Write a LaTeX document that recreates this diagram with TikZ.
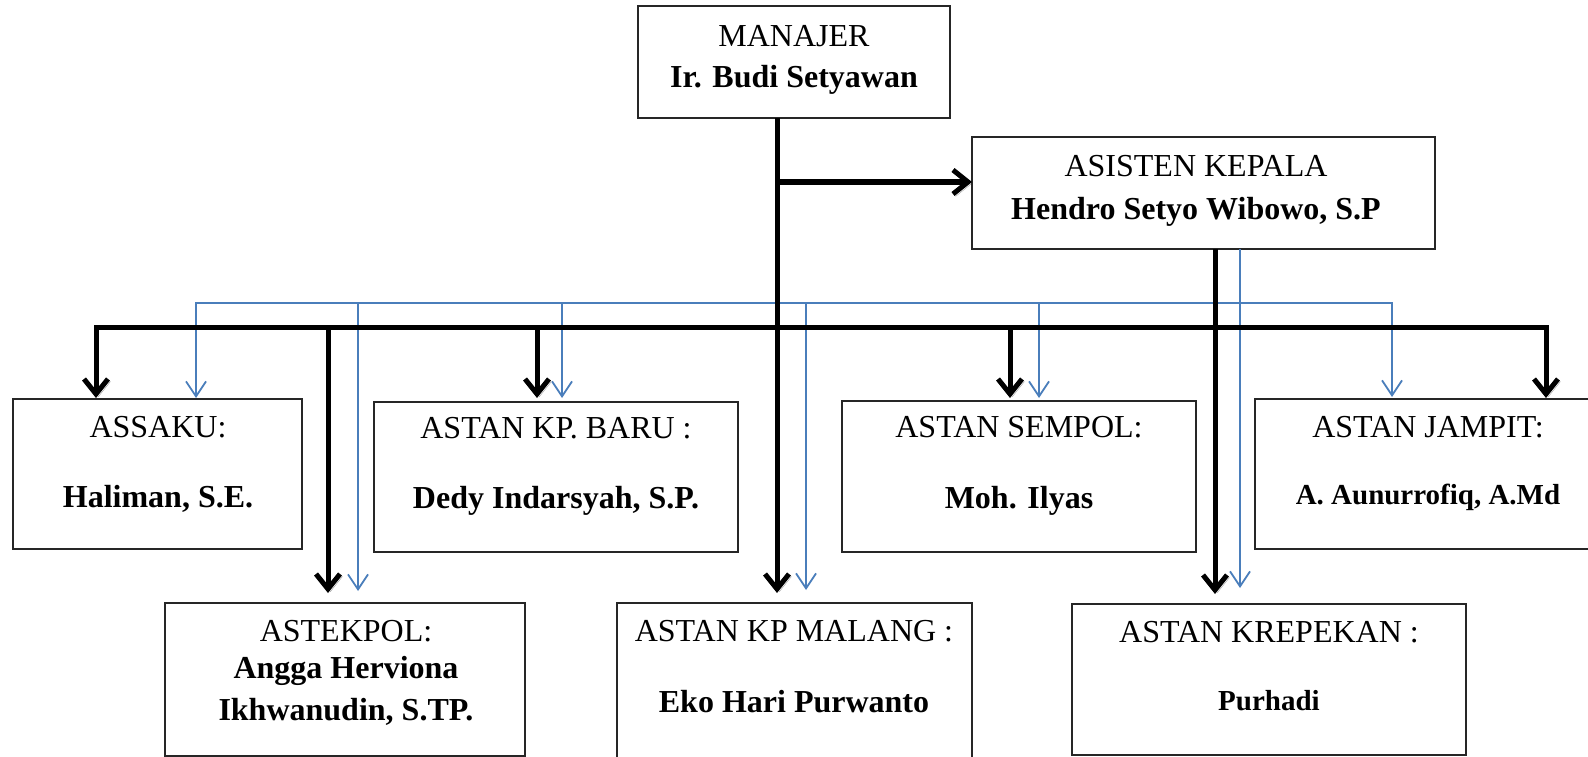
\documentclass[tikz,border=0pt]{standalone}
\usepackage{fontspec}
\setmainfont{Liberation Serif}
\usetikzlibrary{arrows.meta}
\definecolor{lnblue}{RGB}{74,126,187}
\tikzset{
  box/.style={draw=black!85, line width=1.2pt, inner sep=0pt, outer sep=0pt, fill=white},
  lbl/.style={anchor=base, inner sep=0pt, font=\fontsize{32}{38}\selectfont},
  nm/.style={anchor=base, inner sep=0pt, font=\fontsize{32}{38}\selectfont\bfseries},
  nms/.style={anchor=base, inner sep=0pt, font=\fontsize{29}{35}\selectfont\bfseries},
  blk/.style={line width=5pt, draw=black,
    preaction={draw=black!35, transform canvas={shift={(2.5,2.5)}}}},
  blkarr/.style={blk, -{Straight Barb[length=15pt,width=24pt]}},
  blu/.style={line width=1.8pt, draw=lnblue},
  bluarr/.style={blu, -{Straight Barb[length=15pt,width=20pt]}},
}
\begin{document}
\begin{tikzpicture}[x=1pt,y=-1pt]
\useasboundingbox (0,0) rectangle (1588,757);
\clip (0,0) rectangle (1588,757);
\fill[white] (0,0) rectangle (1588,757);
% column coordinates
\coordinate (cA) at (96,0);   \coordinate (cAb) at (196,0);
\coordinate (cT) at (328,0);  \coordinate (cTb) at (358,0);
\coordinate (cB) at (537,0);  \coordinate (cBb) at (562,0);
\coordinate (cM) at (777,0);  \coordinate (cMb) at (806,0);
\coordinate (cS) at (1010,0); \coordinate (cSb) at (1039,0);
\coordinate (cK) at (1215,0); \coordinate (cKb) at (1240,0);
\coordinate (cJb) at (1392,0); \coordinate (cJ) at (1546,0);
\coordinate (bar) at (0,327);
\coordinate (blueline) at (0,303);
\coordinate (cAs) at (0,182);
% boxes
\node[box, minimum width=312pt, minimum height=112pt] (man) at (794,62) {};
\node[box, minimum width=463pt, minimum height=112pt] (asis) at (1203.5,193) {};
\node[box, minimum width=289pt, minimum height=150pt] (assaku) at (157.5,474) {};
\node[box, minimum width=364pt, minimum height=150pt] (baru) at (556,477) {};
\node[box, minimum width=354pt, minimum height=151pt] (sempol) at (1019,476.5) {};
\node[box, minimum width=346pt, minimum height=150pt] (jampit) at (1428,474) {};
\node[box, minimum width=360pt, minimum height=153pt] (astek) at (345,679.5) {};
\node[box, minimum width=355pt, minimum height=157pt] (malang) at (794.5,681.5) {};
\node[box, minimum width=394pt, minimum height=151pt] (krep) at (1269,679.5) {};
% texts
\node[lbl] (manT) at (794,47) {MANAJER};
\node[nm] (manN) at (794,88) {Ir. Budi Setyawan};
\node[lbl] (asisT) at (1196,176) {ASISTEN KEPALA};
\node[nm] (asisN) at (1196,219) {Hendro Setyo Wibowo, S.P};
\node[lbl] (assakuT) at (158,437) {ASSAKU:};
\node[nm] (assakuN) at (158,507) {Haliman, S.E.};
\node[lbl] (baruT) at (556,438) {ASTAN KP. BARU :};
\node[nm] (baruN) at (556,508) {Dedy Indarsyah, S.P.};
\node[lbl] (sempolT) at (1019,437) {ASTAN SEMPOL:};
\node[nm] (sempolN) at (1019,508) {Moh. Ilyas};
\node[lbl] (jampitT) at (1428,437) {ASTAN JAMPIT:};
\node[nms] (jampitN) at (1428,504) {A. Aunurrofiq, A.Md};
\node[lbl] (astekT) at (346,641) {ASTEKPOL:};
\node[nm] (astekN1) at (346,678) {Angga Herviona};
\node[nm] (astekN2) at (346,720) {Ikhwanudin, S.TP.};
\node[lbl] (malangT) at (794,641) {ASTAN KP MALANG :};
\node[nm] (malangN) at (794,712) {Eko Hari Purwanto};
\node[lbl] (krepT) at (1269,642) {ASTAN KREPEKAN :};
\node[nms] (krepN) at (1269,710) {Purhadi};
% blue connectors
\draw[bluarr] (cKb |- asis.south) -- ([yshift=16pt]krep.north -| cKb);
\draw[bluarr] (cKb |- blueline) -| ([yshift=1pt]assaku.north -| cAb);
\draw[bluarr] (cKb |- blueline) -| ([yshift=2pt]jampit.north -| cJb);
\draw[bluarr] (cTb |- blueline) -- ([yshift=12pt]astek.north -| cTb);
\draw[bluarr] (cBb |- blueline) -- ([yshift=4pt]baru.north -| cBb);
\draw[bluarr] (cMb |- blueline) -- ([yshift=13pt]malang.north -| cMb);
\draw[bluarr] (cSb |- blueline) -- ([yshift=3pt]sempol.north -| cSb);
% black connectors
\draw[blkarr] (man.south -| cM) -- ([yshift=10pt]malang.north -| cM);
\draw[blkarr] (cM |- cAs) -- (asis.west |- cAs);
\draw[blkarr] (cM |- bar) -| ([yshift=1pt]assaku.north -| cA);
\draw[blkarr] (cM |- bar) -| ([yshift=1pt]jampit.north -| cJ);
\draw[blkarr] (cT |- bar) -- ([yshift=10pt]astek.north -| cT);
\draw[blkarr] (cB |- bar) -- ([yshift=4pt]baru.north -| cB);
\draw[blkarr] (cS |- bar) -- ([yshift=3pt]sempol.north -| cS);
\draw[blkarr] (asis.south -| cK) -- ([yshift=10pt]krep.north -| cK);
\end{tikzpicture}
\end{document}
